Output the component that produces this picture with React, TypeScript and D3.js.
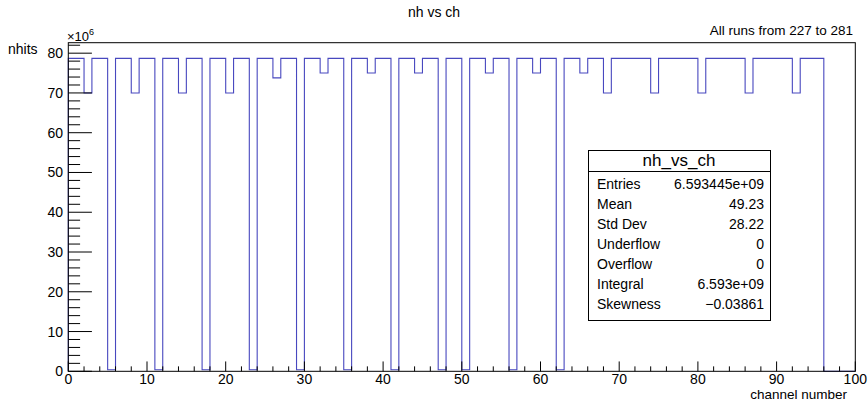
import React from "react";
import * as d3 from "d3";

// Bin contents (units of 1e6 hits) for channels 0..99, bin width 1
const binValues: number[] = [
  78.7, 78.7, 70.0, 78.7, 78.7, 0.4, // 0-5
  78.7, 78.7, 70.0, 78.7, 78.7, 0.4, // 6-11
  78.7, 78.7, 70.0, 78.7, 78.7, 0.4, // 12-17
  78.7, 78.7, 70.0, 78.7, 78.7, 0.4, // 18-23
  78.7, 78.7, 73.8, 78.7, 78.7, 0.4, // 24-29
  78.7, 78.7, 75.0, 78.7, 78.7, 0.4, // 30-35
  78.7, 78.7, 75.0, 78.7, 78.7, 0.4, // 36-41
  78.7, 78.7, 75.0, 78.7, 78.7, 0.4, // 42-47
  78.7, 78.7, 0.4, // 48-50
  78.7, 78.7, 75.0, 78.7, 78.7, 0.4, // 51-56
  78.7, 78.7, 75.0, 78.7, 78.7, 0.4, // 57-62
  78.7, 78.7, 75.0, 78.7, 78.7, 70.0, // 63-68
  78.7, 78.7, 78.7, 78.7, 78.7, 70.0, // 69-74
  78.7, 78.7, 78.7, 78.7, 78.7, 70.0, // 75-80
  78.7, 78.7, 78.7, 78.7, 78.7, 70.0, // 81-86
  78.7, 78.7, 78.7, 78.7, 78.7, 70.0, // 87-92
  78.7, 78.7, 78.7, // 93-95
  0, 0, 0, 0, // 96-99
];

const xMajorTicks = [0, 10, 20, 30, 40, 50, 60, 70, 80, 90, 100];
const yMajorTicks = [0, 10, 20, 30, 40, 50, 60, 70, 80];

const statsTitle = "nh_vs_ch";
const statsLabels = ["Entries", "Mean", "Std Dev", "Underflow", "Overflow", "Integral", "Skewness"];
const statsValues = ["6.593445e+09", "49.23", "28.22", "0", "0", "6.593e+09", "\u22120.03861"];

const W = 868;
const H = 402;
const FONT = "'Liberation Sans', Arial, Helvetica, sans-serif";

export default function App() {
  const left = 68.3;
  const right = 855.3;
  const top = 42.7;
  const bottom = 371.3;
  const x = d3.scaleLinear().domain([0, 100]).range([left, right]);
  const yMax = d3.max(binValues)! * 1.05;
  const y = d3.scaleLinear().domain([0, yMax]).range([bottom, top]);

  // step outline
  const pts: [number, number][] = [[0, 0]];
  binValues.forEach((v, i) => {
    pts.push([i, v]);
    pts.push([i + 1, v]);
  });
  pts.push([binValues.length, 0]);
  const line = d3
    .line<[number, number]>()
    .x((d) => x(d[0]))
    .y((d) => y(d[1]));
  const path = line(pts) || "";

  const xMinor = d3.range(0, 100.001, 2).filter((v) => !xMajorTicks.includes(v));
  const yMinor = d3.range(0, yMax, 2).filter((v) => !yMajorTicks.includes(v));
  const xMajLen = (bottom - top) * 0.03;
  const yMajLen = (right - left) * 0.03;

  const box = { x0: 588, x1: 770, y0: 150, y1: 320, hdr: 171 };

  return (
    <svg width={W} height={H} style={{ display: "block", position: "absolute", left: 0, top: 0 }} fontFamily={FONT}>
      <rect x={0} y={0} width={W} height={H} fill="#fff" />
      {/* title */}
      <text x={434} y={17} textAnchor="middle" fontSize={14} fill="#000">nh vs ch</text>
      <text x={853} y={35} textAnchor="end" fontSize={13.5} fill="#000">All runs from 227 to 281</text>

      {/* histogram */}
      <path d={path} fill="none" stroke="#4848bf" strokeWidth={1.1} />

      {/* frame */}
      <rect x={left} y={top} width={right - left} height={bottom - top} fill="none" stroke="#000" strokeWidth={1} />

      {/* x ticks */}
      {xMajorTicks.map((t) => (
        <g key={"xM" + t}>
          <line x1={x(t)} x2={x(t)} y1={bottom} y2={bottom - xMajLen} stroke="#000" />
          <text x={x(t)} y={383.5} textAnchor="middle" fontSize={14}>{t}</text>
        </g>
      ))}
      {xMinor.map((t) => (
        <line key={"xm" + t} x1={x(t)} x2={x(t)} y1={bottom} y2={bottom - xMajLen / 2} stroke="#000" />
      ))}
      <text x={847} y={398.5} textAnchor="end" fontSize={13.5}>channel number</text>

      {/* y ticks */}
      {yMajorTicks.map((t) => (
        <g key={"yM" + t}>
          <line x1={left} x2={left + yMajLen} y1={y(t)} y2={y(t)} stroke="#000" />
          <text x={63} y={y(t) + 5} textAnchor="end" fontSize={14}>{t}</text>
        </g>
      ))}
      {yMinor.map((t) => (
        <line key={"ym" + t} x1={left} x2={left + yMajLen / 2} y1={y(t)} y2={y(t)} stroke="#000" />
      ))}
      <text x={8} y={54} fontSize={14}>nhits</text>
      <text x={67} y={41} fontSize={13}>
        ×10<tspan dy={-6} fontSize={9}>6</tspan>
      </text>

      {/* stats box */}
      <rect x={box.x0 + 0.5} y={box.y0 + 0.5} width={box.x1 - box.x0} height={box.y1 - box.y0} fill="#fff" stroke="#000" />
      <line x1={box.x0} x2={box.x1} y1={box.hdr + 0.5} y2={box.hdr + 0.5} stroke="#000" />
      <text x={(box.x0 + box.x1) / 2} y={166} textAnchor="middle" fontSize={17}>{statsTitle}</text>
      {statsLabels.map((lab, i) => (
        <g key={lab}>
          <text x={597} y={189 + i * 20} fontSize={14}>{lab}</text>
          <text x={box.x1 - 6} y={189 + i * 20} textAnchor="end" fontSize={14}>{statsValues[i]}</text>
        </g>
      ))}
    </svg>
  );
}
